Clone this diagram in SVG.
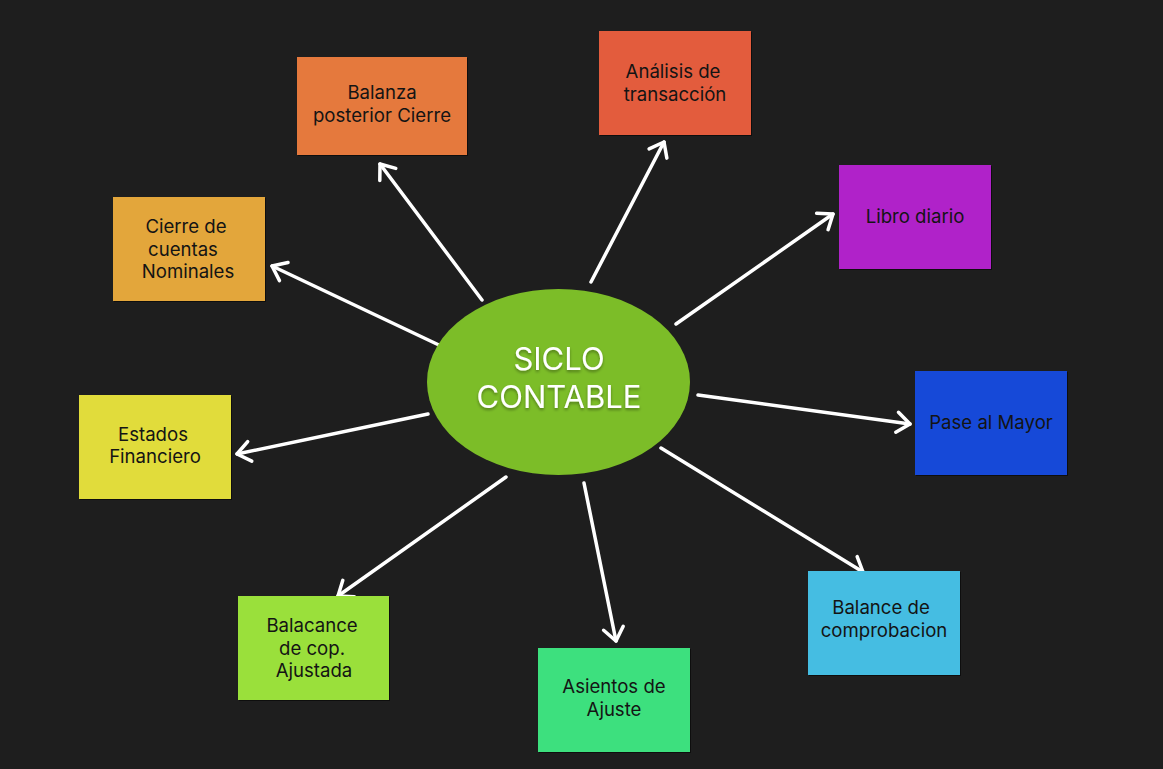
<svg xmlns="http://www.w3.org/2000/svg" width="1163" height="769" viewBox="0 0 1163 769">
  <style>
    .box { stroke: none; filter: url(#boxShadow); }
    .lbl { font-family: Inter, "Liberation Sans", sans-serif; font-size: 18.6px; fill: #141414; text-anchor: middle; }
    .title { font-family: Inter, "Liberation Sans", sans-serif; font-size: 31px; fill: #ffffff; text-anchor: middle; filter: url(#textShadow); }
    .edge { stroke: #ffffff; stroke-width: 3.5; stroke-linecap: round; fill: none; marker-end: url(#chevron); }
  </style>
  <defs>
    <filter id="boxShadow" x="-5%" y="-5%" width="110%" height="110%">
      <feDropShadow dx="1" dy="1" stdDeviation="0.6" flood-color="#000000" flood-opacity="0.55"/>
    </filter>
    <filter id="textShadow" x="-10%" y="-20%" width="120%" height="150%">
      <feDropShadow dx="0" dy="2" stdDeviation="1.5" flood-color="#000000" flood-opacity="0.35"/>
    </filter>
    <marker id="chevron" markerUnits="userSpaceOnUse" markerWidth="40" markerHeight="40" viewBox="-20 -20 40 40" refX="0" refY="0" orient="auto">
      <path d="M-13,-10 L0,0 L-13,10" stroke="#ffffff" stroke-width="3.5" stroke-linecap="round" stroke-linejoin="round" fill="none"/>
    </marker>
  </defs>

  <rect width="1163" height="769" fill="#1e1e1e"/>

  <!-- connectors from the central ellipse -->
  <g id="connectors">
    <line class="edge" x1="482" y1="300" x2="380" y2="164"/>
    <line class="edge" x1="591" y1="282" x2="664" y2="142"/>
    <line class="edge" x1="676" y1="324" x2="833" y2="214"/>
    <line class="edge" x1="698" y1="395" x2="910" y2="424"/>
    <line class="edge" x1="661" y1="448" x2="863" y2="572"/>
    <line class="edge" x1="584" y1="483" x2="616" y2="641"/>
    <line class="edge" x1="506" y1="477" x2="338" y2="596"/>
    <line class="edge" x1="428" y1="414" x2="237" y2="454"/>
    <line class="edge" x1="441" y1="346" x2="272" y2="266"/>
  </g>

  <g id="center">
    <ellipse cx="558.5" cy="382" rx="131.5" ry="93" fill="#7cbd28"/>
    <text class="title" x="559" y="370">SICLO</text>
    <text class="title" x="559" y="408">CONTABLE</text>
  </g>

  <g id="balanza-posterior">
    <rect class="box" x="297" y="57" width="170" height="98" fill="#e5793d"/>
    <text class="lbl" x="382" y="99">Balanza</text>
    <text class="lbl" x="382" y="122">posterior Cierre</text>
  </g>

  <g id="analisis">
    <rect class="box" x="599" y="31" width="152" height="104" fill="#e35b3c"/>
    <text class="lbl" x="673" y="78">Análisis de</text>
    <text class="lbl" x="675" y="101">transacción</text>
  </g>

  <g id="libro-diario">
    <rect class="box" x="839" y="165" width="152" height="104" fill="#b024c9"/>
    <text class="lbl" x="915" y="223">Libro diario</text>
  </g>

  <g id="pase-mayor">
    <rect class="box" x="915" y="371" width="152" height="104" fill="#1248d8"/>
    <text class="lbl" x="991" y="429">Pase al Mayor</text>
  </g>

  <g id="balance-comprobacion">
    <rect class="box" x="808" y="571" width="152" height="104" fill="#45bde2"/>
    <text class="lbl" x="881" y="614">Balance de</text>
    <text class="lbl" x="884" y="637">comprobacion</text>
  </g>

  <g id="asientos-ajuste">
    <rect class="box" x="538" y="648" width="152" height="104" fill="#3ce07e"/>
    <text class="lbl" x="614" y="693">Asientos de</text>
    <text class="lbl" x="614" y="716">Ajuste</text>
  </g>

  <g id="balance-ajustada">
    <rect class="box" x="238" y="596" width="151" height="104" fill="#9ae03a"/>
    <text class="lbl" x="312" y="632">Balacance</text>
    <text class="lbl" x="312" y="655">de cop.</text>
    <text class="lbl" x="314" y="677">Ajustada</text>
  </g>

  <g id="estados-financiero">
    <rect class="box" x="79" y="395" width="152" height="104" fill="#e1dc3a"/>
    <text class="lbl" x="153" y="441">Estados</text>
    <text class="lbl" x="155" y="463">Financiero</text>
  </g>

  <g id="cierre-nominales">
    <rect class="box" x="113" y="197" width="152" height="104" fill="#e3a63a"/>
    <text class="lbl" x="186" y="233">Cierre de</text>
    <text class="lbl" x="183" y="256">cuentas</text>
    <text class="lbl" x="188" y="278">Nominales</text>
  </g>
</svg>
